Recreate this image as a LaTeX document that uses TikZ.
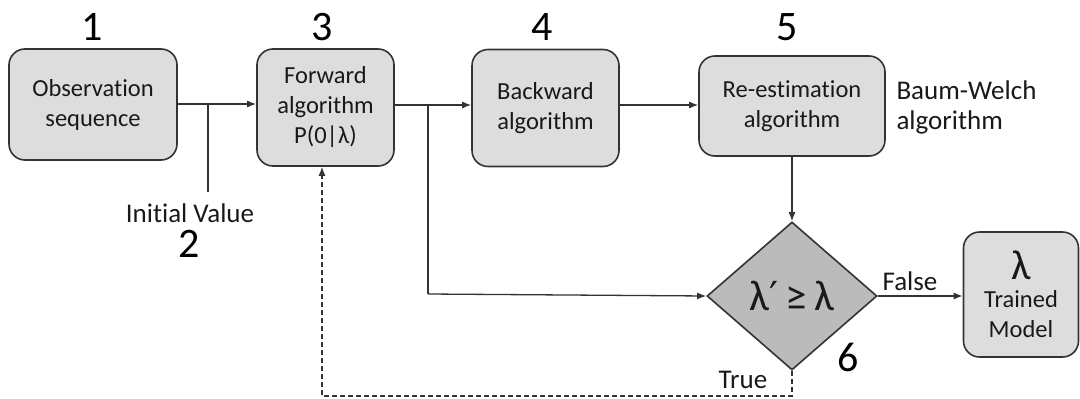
\documentclass[tikz,border=0pt]{standalone}
\usepackage{fontspec}
\setmainfont{Carlito}[Ligatures={NoCommon}]
\newfontfamily\symfont{DejaVu Sans}
\usetikzlibrary{shapes.geometric,arrows.meta}
\definecolor{boxfill}{HTML}{DDDDDD}
\definecolor{diafill}{HTML}{BBBBBB}
\definecolor{edge}{HTML}{333333}
\tikzset{
  procbox/.style={draw=edge, line width=1.6pt, fill=boxfill, rounded corners=16pt,
    align=center, inner sep=0pt, font=\fontsize{24.5}{30}\selectfont, text=black!90},
  decbox/.style={draw=edge, line width=1.6pt, fill=diafill, diamond, inner sep=0pt,
    minimum width=170pt, minimum height=148pt, font=\fontsize{43}{46}\selectfont, text=black!90},
  numlbl/.style={font=\fontsize{42}{46}\selectfont, text=black},
  txtlbl/.style={font=\fontsize{27}{30}\selectfont, text=black!90},
  conn/.style={draw=edge, line width=1.3pt},
  arr/.style={conn, -{Latex[length=9pt,width=7pt]}},
}
\begin{document}
\begin{tikzpicture}[x=1pt,y=-1pt]
\useasboundingbox (0,0) rectangle (1080,399);
% boxes
\node[procbox, minimum width=168pt, minimum height=111pt] (b1) at (93,104.5) {Observation\\sequence};
\node[procbox, minimum width=137pt, minimum height=117pt] (b3) at (325.5,107.5) {Forward\\algorithm\\P(0|λ)};
\node[procbox, minimum width=147pt, minimum height=117pt] (b4) at (545.5,108) {Backward\\algorithm};
\node[procbox, minimum width=186pt, minimum height=100pt] (b5) at (792,106) {Re-estimation\\algorithm};
\node[decbox] (dia) at (792,296) {λ{\symfont\fontsize{40}{44}\selectfont′}\,≥\,λ};
\node[procbox, minimum width=115pt, minimum height=125pt] (tm) at (1021,294.5)
  {{\fontsize{42}{36}\selectfont λ}\\[-2pt]Trained\\Model};
% number labels
\node[numlbl] (n1) at (92,27) {1};
\node[numlbl] (n3) at (322,27) {3};
\node[numlbl] (n4) at (542,27) {4};
\node[numlbl] (n5) at (787,27) {5};
\node[numlbl] (n2) at (189,244) {2};
\node[numlbl] (n6) at (848,357) {6};
% text labels
\node[txtlbl, anchor=west, align=left] (bw) at (893,107) {Baum-Welch\\algorithm};
\node[txtlbl] (iv) at (190,213) {Initial Value};
\node[txtlbl] (fl) at (910,281) {False};
\node[txtlbl] (tr) at (743,380) {True};
% coordinates
\coordinate (j1) at (208,104);
\coordinate (j1b) at (208,192);
\coordinate (j2) at (428,105);
\coordinate (j2b) at (428,294);
\coordinate (d1) at (792,396);
\coordinate (d2) at (322,396);
% connectors
\draw[arr] (b1.east |- j1) -- (b3.west |- j1);
\draw[conn] (j1) -- (j1b);
\draw[arr] (b3.east |- j2) -- (b4.west |- j2);
\draw[conn] (j2) -- (j2b);
\draw[arr] (j2b) -- (dia.west);
\draw[arr] (b4.east |- j2) -- (b5.west |- j2);
\draw[arr] (b5.south) -- (dia.north);
\draw[arr] (dia.east) -- (tm.west |- dia.east);
\draw[conn, dashed, dash pattern=on 5pt off 3pt, -{Latex[length=9pt,width=7pt]}]
  (dia.south) -- (d1) -- (d2) -- (b3.south -| d2);
\end{tikzpicture}
\end{document}
